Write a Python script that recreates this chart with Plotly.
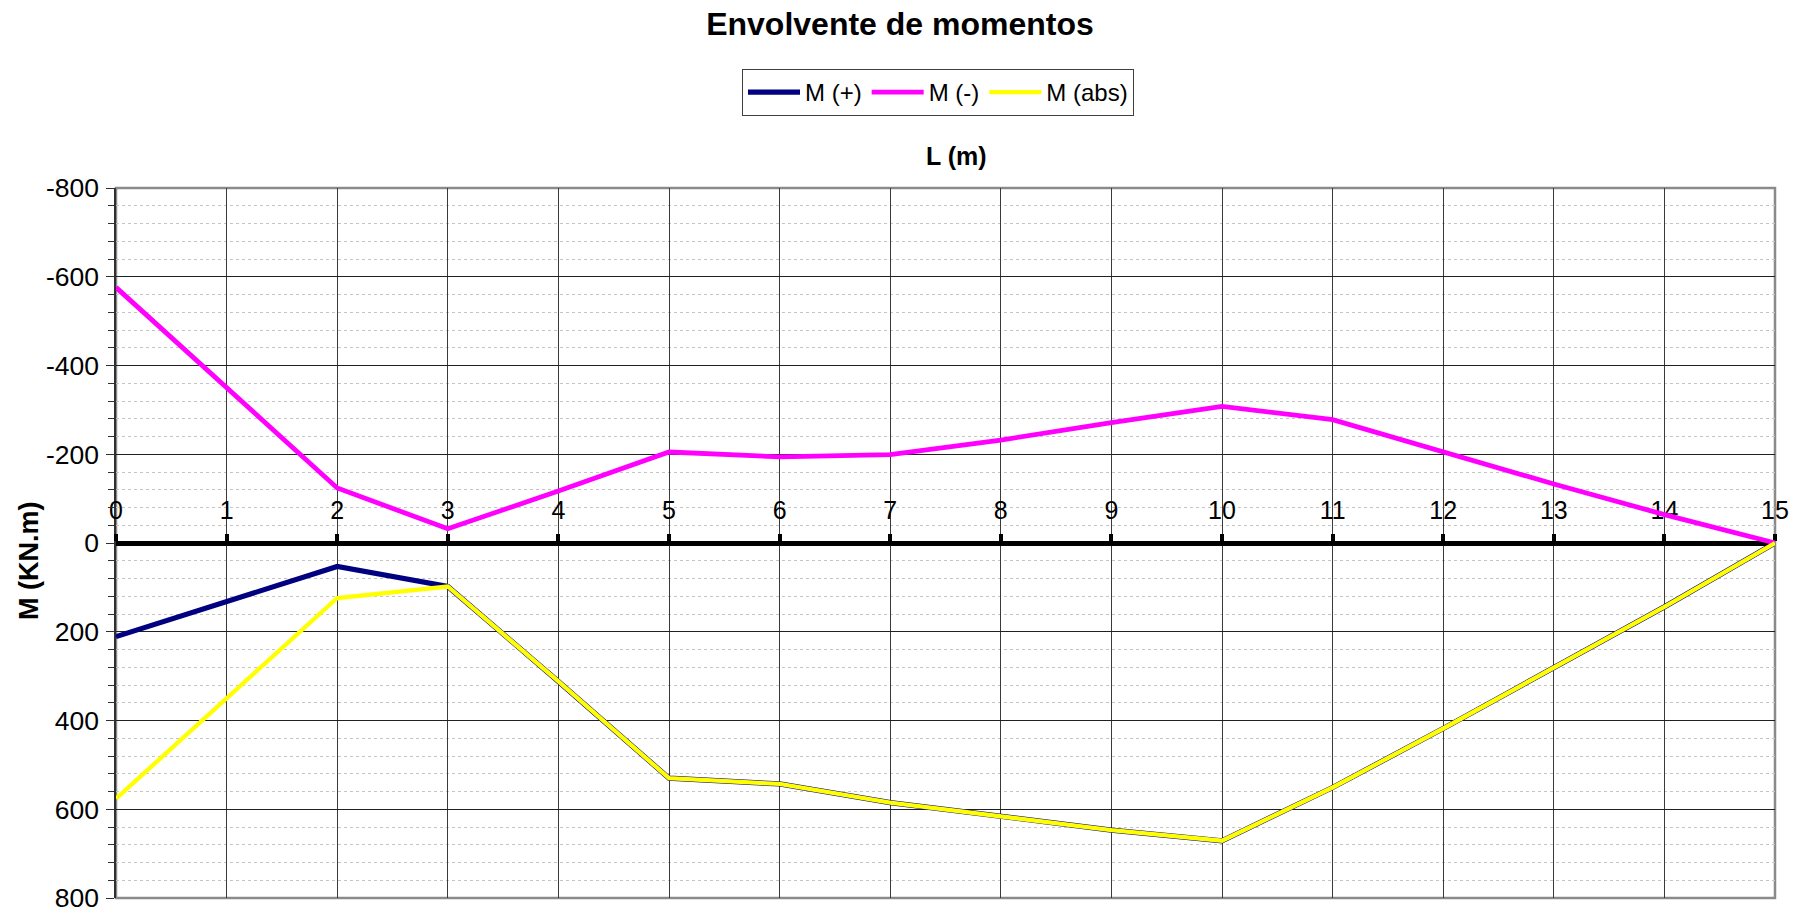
import plotly.graph_objects as go

# Beam stations along the span (m)
L_m = list(range(16))

# Bending-moment envelope (kN·m)
M_pos = [211, 133, 53, 98, 312, 530, 543, 585, 617, 647, 671, 551, 418, 282, 144, 0]
M_neg = [-576, -350, -124, -32, -117, -205, -194, -199, -232, -271, -308, -278, -205, -133, -64, 0]
M_abs = [576, 350, 124, 98, 312, 530, 543, 585, 617, 647, 671, 551, 418, 282, 144, 0]

# Axis ticks
y_tickvals = [-800, -600, -400, -200, 0, 200, 400, 600, 800]
y_ticktext = ["-800", "-600", "-400", "-200", "0", "200", "400", "600", "800"]
x_tickvals = L_m
x_ticktext = [str(v) for v in L_m]

FONT = "Liberation Sans, Arial, sans-serif"
W, H = 1809, 914
ML, MR, MT, MB = 116, 34, 188, 16
PW, PH = W - ML - MR, H - MT - MB


def px_x(px):
    return (px - ML) / PW


def px_y(py):
    return (H - MB - py) / PH


fig = go.Figure()
fig.add_trace(go.Scatter(x=L_m, y=M_pos, mode="lines", name="M (+)",
                         line=dict(color="#000080", width=5.2)))
fig.add_trace(go.Scatter(x=L_m, y=M_neg, mode="lines", name="M (-)",
                         line=dict(color="#FF00FF", width=4.8)))
fig.add_trace(go.Scatter(x=L_m, y=M_abs, mode="lines", name="M (abs)",
                         line=dict(color="#FFFF00", width=4.3)))

fig.update_layout(
    template="none",
    width=W, height=H,
    margin=dict(l=ML, r=MR, t=MT, b=MB, autoexpand=False),
    paper_bgcolor="white", plot_bgcolor="white",
    font=dict(family=FONT, color="black"),
    title=dict(text="Envolvente de momentos", x=900 / W, xanchor="center",
               xref="container", yref="container", y=1 - 24 / H, yanchor="middle",
               font=dict(size=32, weight="bold", family=FONT, color="black")),
    legend=dict(orientation="h", x=px_x(938), xanchor="center",
                y=px_y(69), yanchor="top",
                bordercolor="#404040", borderwidth=1, bgcolor="white",
                font=dict(size=24, family=FONT, color="black"),
                traceorder="normal", itemwidth=52,
                tracegroupgap=0, entrywidthmode="pixels"),
    showlegend=True,
)

fig.update_xaxes(
    range=[0, 15], tickvals=x_tickvals, ticktext=x_ticktext,
    side="top", anchor="free", position=0.5, automargin=False,
    showline=True, linecolor="black", linewidth=4.5,
    ticks="outside", ticklen=7, tickwidth=4, tickcolor="black",
    ticklabelstandoff=5,
    tickfont=dict(size=25, family=FONT, color="black"),
    showgrid=True, gridcolor="#3a3a3a", gridwidth=1,
    zeroline=False, layer="below traces",
)

fig.update_yaxes(
    range=[800, -800], tickvals=y_tickvals, ticktext=y_ticktext,
    automargin=False,
    showline=True, linecolor="#303030", linewidth=1.5,
    ticks="outside", ticklen=8, tickwidth=1, tickcolor="#303030",
    ticklabelstandoff=2,
    tickfont=dict(size=26.5, family=FONT, color="black"),
    showgrid=True, gridcolor="#202020", gridwidth=1,
    zeroline=False, layer="below traces",
    minor=dict(dtick=40, ticks="outside", ticklen=6, tickwidth=1, tickcolor="#303030",
               showgrid=True, gridcolor="#c4c4c4", griddash="dot", gridwidth=1),
)

# Plot-area frame
fig.add_shape(type="rect", xref="paper", yref="paper", x0=0, x1=1, y0=0, y1=1,
              line=dict(color="#8a8a8a", width=2.5), layer="between")

# Axis titles
fig.add_annotation(text="<b>L (m)</b>", xref="paper", yref="paper",
                   x=px_x(956), y=px_y(156), xanchor="center", yanchor="middle",
                   showarrow=False, font=dict(size=25, family=FONT, color="black"))
fig.add_annotation(text="<b>M (KN.m)</b>", xref="paper", yref="paper",
                   x=px_x(29), y=px_y(561), xanchor="center", yanchor="middle",
                   textangle=-90, showarrow=False,
                   font=dict(size=27, family=FONT, color="black"))

fig.write_html("out.html")
